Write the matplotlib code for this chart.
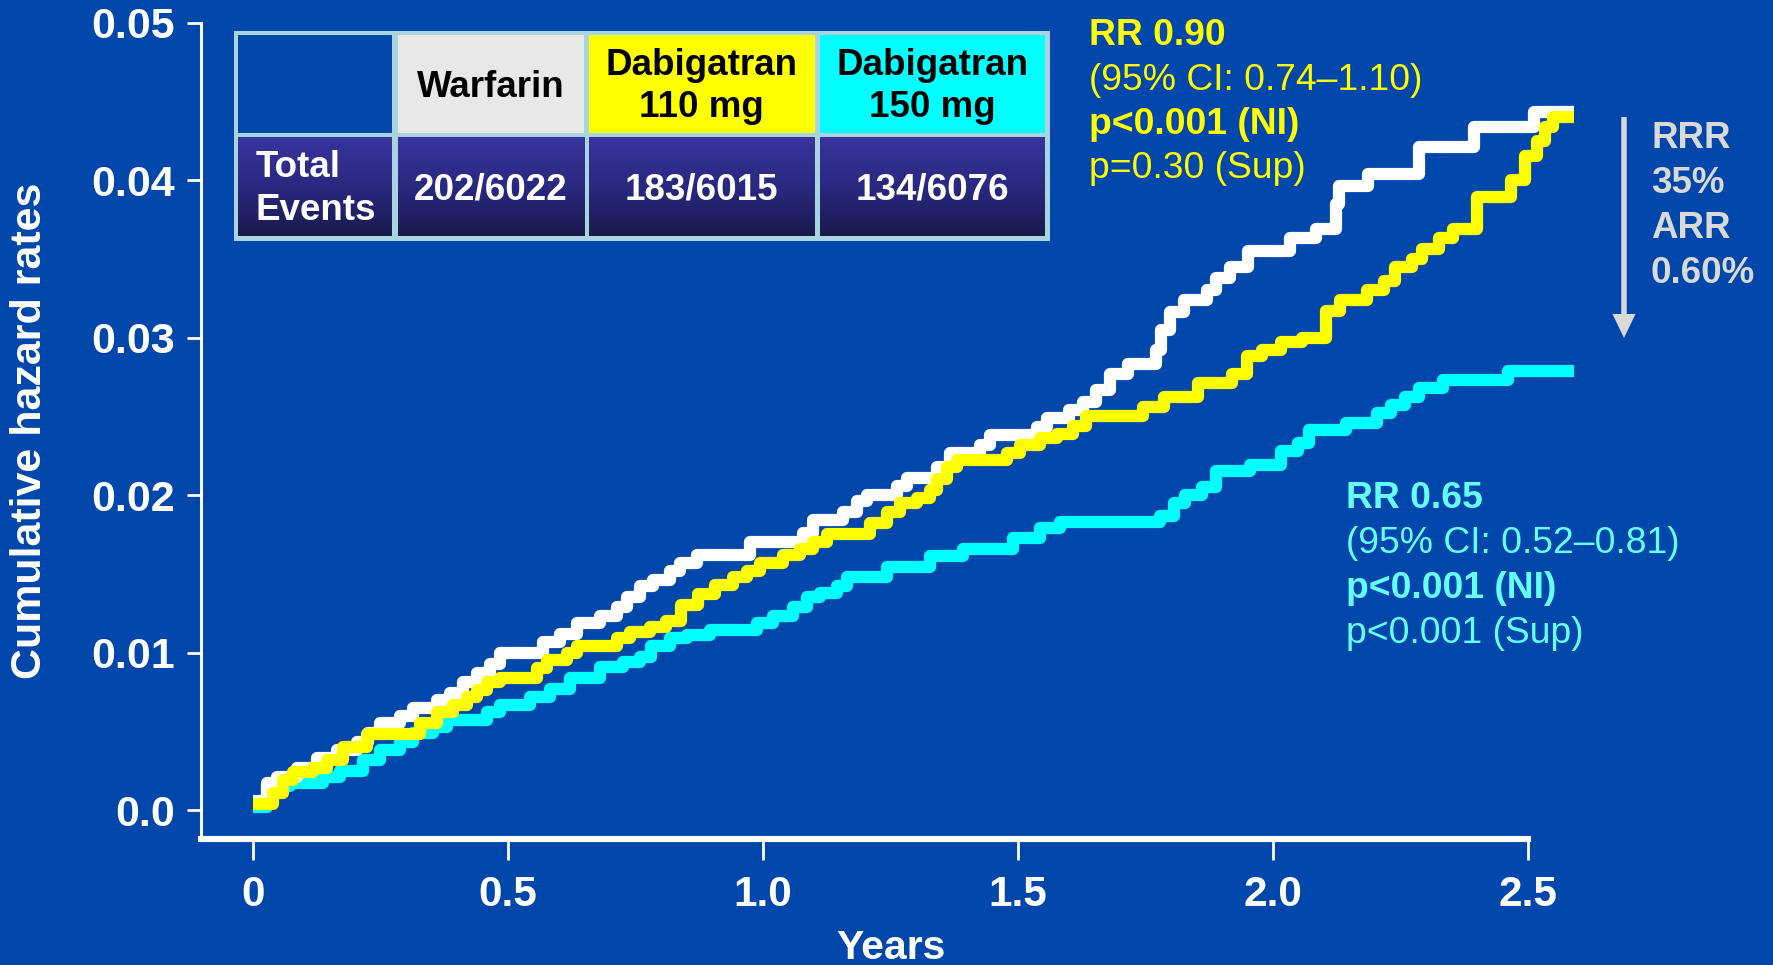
import numpy as np
import matplotlib
matplotlib.use("Agg")
import matplotlib.pyplot as plt
from matplotlib.patches import Rectangle, FancyArrow
from matplotlib.colors import LinearSegmentedColormap

plt.rcParams['font.family'] = ['Liberation Sans', 'DejaVu Sans']

# ---------------- data ----------------
warfarin_t = [0, 0.027, 0.047, 0.086, 0.125, 0.165, 0.204, 0.226, 0.249, 0.288, 0.314, 0.36, 0.386,
              0.412, 0.439, 0.465, 0.484, 0.569, 0.602, 0.635, 0.68, 0.713, 0.733, 0.759, 0.784,
              0.818, 0.837, 0.87, 0.975, 1.078, 1.098, 1.157, 1.184, 1.204, 1.262, 1.282, 1.341,
              1.367, 1.425, 1.445, 1.537, 1.557, 1.60, 1.627, 1.653, 1.68, 1.716, 1.77, 1.78,
              1.798, 1.825, 1.87, 1.888, 1.915, 1.951, 2.033, 2.085, 2.124, 2.13, 2.186, 2.286,
              2.394, 2.512, 2.59]
warfarin_y = [0.0006, 0.0017, 0.0021, 0.0027, 0.0033, 0.0038, 0.0043, 0.0049, 0.0055, 0.0060, 0.0065,
              0.0070, 0.0074, 0.0081, 0.0087, 0.0093, 0.0100, 0.0107, 0.0112, 0.0119, 0.0123, 0.0129,
              0.0135, 0.0142, 0.0146, 0.0152, 0.0157, 0.0162, 0.0170, 0.0176, 0.0184, 0.0189, 0.0196,
              0.0200, 0.0206, 0.0211, 0.0218, 0.0227, 0.0232, 0.0238, 0.0243, 0.0249, 0.0254, 0.0259,
              0.0267, 0.0277, 0.0283, 0.0292, 0.0305, 0.0316, 0.0324, 0.0330, 0.0338, 0.0345, 0.0355,
              0.0363, 0.0369, 0.0385, 0.0396, 0.0404, 0.0421, 0.0434, 0.0443, 0.0443]

dabi110_t = [0, 0.04, 0.059, 0.078, 0.118, 0.145, 0.176, 0.224, 0.327, 0.36, 0.392, 0.42, 0.439,
             0.459, 0.484, 0.557, 0.576, 0.616, 0.635, 0.713, 0.739, 0.778, 0.81, 0.84, 0.873,
             0.905, 0.941, 0.969, 0.994, 1.04, 1.073, 1.098, 1.125, 1.21, 1.243, 1.269, 1.302,
             1.327, 1.341, 1.361, 1.38, 1.478, 1.504, 1.543, 1.576, 1.608, 1.633, 1.745, 1.786,
             1.853, 1.92, 1.949, 1.978, 2.016, 2.057, 2.104, 2.131, 2.184, 2.218, 2.24, 2.273,
             2.292, 2.325, 2.353, 2.40, 2.467, 2.494, 2.518, 2.533, 2.549, 2.59]
dabi110_y = [0.0004, 0.0011, 0.0019, 0.0024, 0.0027, 0.0032, 0.0040, 0.0048, 0.0055, 0.0062, 0.0067,
             0.0072, 0.0076, 0.0081, 0.0084, 0.0090, 0.0095, 0.0100, 0.0104, 0.0109, 0.0113, 0.0116,
             0.0120, 0.0130, 0.0137, 0.0143, 0.0148, 0.0152, 0.0157, 0.0162, 0.0166, 0.0170, 0.0175,
             0.0182, 0.0189, 0.0195, 0.0198, 0.0203, 0.0210, 0.0218, 0.0222, 0.0227, 0.0232, 0.0236,
             0.0239, 0.0244, 0.0250, 0.0256, 0.0262, 0.0271, 0.0277, 0.0288, 0.0292, 0.0297, 0.0300,
             0.0317, 0.0324, 0.0330, 0.0336, 0.0345, 0.0350, 0.0356, 0.0363, 0.0369, 0.0389, 0.0400,
             0.0415, 0.0425, 0.0434, 0.0440, 0.0440]

dabi150_t = [0, 0.027, 0.073, 0.137, 0.171, 0.216, 0.249, 0.288, 0.314, 0.353, 0.38, 0.459, 0.484,
             0.543, 0.582, 0.622, 0.68, 0.726, 0.759, 0.78, 0.818, 0.851, 0.896, 0.988, 1.02, 1.059,
             1.086, 1.112, 1.145, 1.165, 1.243, 1.327, 1.392, 1.49, 1.543, 1.582, 1.778, 1.806,
             1.827, 1.861, 1.888, 1.955, 2.016, 2.049, 2.071, 2.143, 2.204, 2.231, 2.259, 2.286,
             2.333, 2.461, 2.59]
dabi150_y = [0.0002, 0.0015, 0.0017, 0.0021, 0.0025, 0.0032, 0.0038, 0.0043, 0.0049, 0.0053, 0.0057,
             0.0062, 0.0067, 0.0072, 0.0077, 0.0084, 0.0091, 0.0094, 0.0097, 0.0104, 0.0109, 0.0111,
             0.0114, 0.0119, 0.0123, 0.0129, 0.0135, 0.0138, 0.0142, 0.0148, 0.0154, 0.0161, 0.0166,
             0.0173, 0.0179, 0.0183, 0.0187, 0.0195, 0.0200, 0.0205, 0.0215, 0.0219, 0.0228, 0.0233,
             0.0241, 0.0246, 0.0252, 0.0257, 0.0262, 0.0268, 0.0273, 0.0279, 0.0279]

x_ticks = [0, 0.5, 1.0, 1.5, 2.0, 2.5]
x_ticklabels = ['0', '0.5', '1.0', '1.5', '2.0', '2.5']
y_ticks = [0.0, 0.01, 0.02, 0.03, 0.04, 0.05]
y_ticklabels = ['0.0', '0.01', '0.02', '0.03', '0.04', '0.05']

table_headers = ['Warfarin', 'Dabigatran\n110 mg', 'Dabigatran\n150 mg']
table_row_label = 'Total\nEvents'
table_events = ['202/6022', '183/6015', '134/6076']

# ---------------- style ----------------
W, H = 1773, 965
BG = '#0047AB'
WHITE = '#FFFFFF'
YELLOW = '#FFFF00'
CYAN = '#00FFFF'
GREY = '#D9D9D9'
CYAN_TXT = '#66FFFF'

fig = plt.figure(figsize=(W / 100, H / 100), dpi=100, facecolor=BG)

x_left_px, x_right_px = 201, 1604.5
y_top_px, y_bot_px = 22.6, 839
ax = fig.add_axes([x_left_px / W, 1 - y_bot_px / H,
                   (x_right_px - x_left_px) / W, (y_bot_px - y_top_px) / H])
ax.set_facecolor(BG)
ax.set_xlim(-0.102, 2.65)
ax.set_ylim(-0.00184, 0.05)

lw = 8.8
for t, y, c, z in [(dabi150_t, dabi150_y, CYAN, 2),
                   (warfarin_t, warfarin_y, WHITE, 3),
                   (dabi110_t, dabi110_y, YELLOW, 4)]:
    ax.plot(t, y, drawstyle='steps-post', color=c, lw=lw, zorder=z,
            solid_joinstyle='round', solid_capstyle='butt')

for s in ['top', 'right']:
    ax.spines[s].set_visible(False)
ax.spines['left'].set_color(WHITE)
ax.spines['left'].set_linewidth(2.2)
ax.spines['bottom'].set_color(WHITE)
ax.spines['bottom'].set_linewidth(4.4)
ax.spines['bottom'].set_bounds(-0.102, 2.5)

ax.set_xticks(x_ticks)
ax.set_xticklabels(x_ticklabels, fontsize=30.5, fontweight='bold', color=WHITE)
ax.set_yticks(y_ticks)
ax.set_yticklabels(y_ticklabels, fontsize=31, fontweight='bold', color=WHITE)
ax.tick_params(axis='x', direction='out', length=15, width=2, colors=WHITE, pad=11)
ax.tick_params(axis='y', direction='out', length=10, width=2, colors=WHITE, pad=9)

# axis labels
fig.text(30.5 / W, 1 - 431 / H, 'Cumulative hazard rates', rotation=90, ha='center',
         va='center', fontsize=31, fontweight='bold', color=WHITE)
fig.text((253 + 1.25 * 510) / W, 1 - 959 / H, 'Years', ha='center', va='baseline',
         fontsize=29.5, fontweight='bold', color=WHITE)

# ---------------- overlay in pixel coords ----------------
ov = fig.add_axes([0, 0, 1, 1], zorder=10)
ov.set_xlim(0, W)
ov.set_ylim(H, 0)
ov.axis('off')
ov.patch.set_alpha(0)

def ptext(x, y, s, **kw):
    ov.text(x, y, s, va='baseline', **kw)

# annotations (yellow)
ptext(1089, 45, 'RR 0.90', fontsize=26.8, fontweight='bold', color=YELLOW)
ptext(1089, 90, '(95% CI: 0.74–1.10)', fontsize=26.8, color=YELLOW)
ptext(1089, 134, 'p<0.001 (NI)', fontsize=26.8, fontweight='bold', color=YELLOW)
ptext(1089, 178, 'p=0.30 (Sup)', fontsize=26.8, color=YELLOW)

# annotations (cyan)
ptext(1346, 508, 'RR 0.65', fontsize=26.8, fontweight='bold', color=CYAN_TXT)
ptext(1346, 553, '(95% CI: 0.52–0.81)', fontsize=26.8, color=CYAN_TXT)
ptext(1346, 598, 'p<0.001 (NI)', fontsize=26.8, fontweight='bold', color=CYAN_TXT)
ptext(1346, 643, 'p<0.001 (Sup)', fontsize=26.8, color=CYAN_TXT)

# RRR / ARR
for yb, s in zip([148, 193, 238, 283], ['RRR', '35%', 'ARR', '0.60%']):
    ptext(1651, yb, s, fontsize=26.5, fontweight='bold', color=GREY)
ov.add_patch(FancyArrow(1624, 117, 0, 221, width=5.5, head_width=23, head_length=24,
                        length_includes_head=True, color=GREY, lw=0))

# table
BORDER = '#A9D3DE'
ov.add_patch(Rectangle((233.7, 31), 1050 - 233.7, 241 - 31, facecolor=BORDER, edgecolor='none'))
cols = [(238, 392), (397.5, 584), (589, 814.5), (820, 1044.5)]
row1 = (35, 133)
row2 = (137, 236)
head_colors = [BG, '#E8E8E8', YELLOW, CYAN]
for (x0, x1), fc in zip(cols, head_colors):
    ov.add_patch(Rectangle((x0, row1[0]), x1 - x0, row1[1] - row1[0], facecolor=fc,
                           edgecolor='none'))
cmap = LinearSegmentedColormap.from_list('g', ['#37349C', '#2A2880', '#1B1A4E'])
grad = np.linspace(0, 1, 100).reshape(-1, 1)
for (x0, x1) in cols:
    ov.imshow(grad, extent=[x0, x1, row2[1], row2[0]], cmap=cmap, aspect='auto',
              origin='upper', interpolation='bilinear', zorder=1)
ov.set_xlim(0, W)
ov.set_ylim(H, 0)

TFS = 26.5
centers = [(x0 + x1) / 2 for x0, x1 in cols]
ptext(centers[1], 97, table_headers[0], fontsize=TFS, fontweight='bold', color='black', ha='center', zorder=3)
for ci, hdr in zip([2, 3], table_headers[1:]):
    l1, l2 = hdr.split('\n')
    ptext(centers[ci], 75, l1, fontsize=TFS, fontweight='bold', color='black', ha='center', zorder=3)
    ptext(centers[ci], 117, l2, fontsize=TFS, fontweight='bold', color='black', ha='center', zorder=3)
r1, r2 = table_row_label.split('\n')
ptext(256, 177, r1, fontsize=TFS, fontweight='bold', color=WHITE, zorder=3)
ptext(256, 220, r2, fontsize=TFS, fontweight='bold', color=WHITE, zorder=3)
for ci, ev in zip([1, 2, 3], table_events):
    ptext(centers[ci], 200, ev, fontsize=TFS, fontweight='bold', color=WHITE, ha='center', zorder=3)

fig.savefig('out.png', dpi=100, facecolor=BG)
